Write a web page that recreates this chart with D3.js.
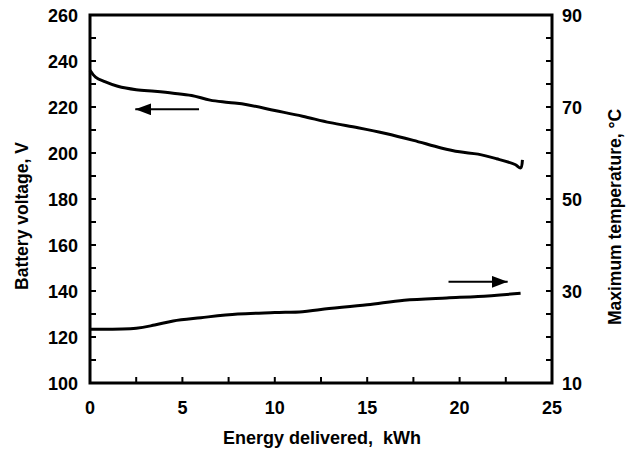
<!DOCTYPE html>
<html lang="en">
<head>
<meta charset="utf-8">
<title>Battery voltage and temperature</title>
<style>
    body { margin: 0; background: #fff; }
    text { font-family: "Liberation Sans", Arial, sans-serif; font-weight: bold; fill: #000; white-space: pre; }
    .line { fill: none; stroke: #000; stroke-width: 3; stroke-linejoin: round; }
    .frame { fill: none; stroke: #000; stroke-width: 3; }
    .tick { stroke: #000; stroke-width: 2; }
</style>
</head>
<body>
<div id="chart"></div>
<script src="https://d3js.org/d3.v7.min.js"></script>
<script>
// battery voltage (left axis)
var voltEnergy = [0, 0.3, 0.8, 1.5, 2.5, 3.5, 4.5, 5.5, 6.5, 7.5, 8.5, 10, 11.5, 13, 14.5, 16, 17.5, 19, 20, 21, 22, 23, 23.3, 23.4];
var voltage    = [236, 233, 231, 229, 227.5, 226.8, 226, 225, 223, 222, 221, 218.5, 216, 213.2, 211, 208.5, 205.5, 202.2, 200.5, 199.5, 197.5, 195, 193.5, 197];

// max temperature (right axis)
var tempEnergy = [0, 2.5, 3.5, 4.5, 6, 8, 10, 11.5, 12.5, 15, 17, 19.3, 21, 23.3];
var temperature = [21.7, 21.9, 22.6, 23.5, 24.2, 25, 25.3, 25.5, 26, 27, 28, 28.5, 28.8, 29.5];

var xTicks = [0, 5, 10, 15, 20, 25];
var voltTicks = [100, 120, 140, 160, 180, 200, 220, 240, 260];
var tempTicks = [10, 30, 50, 70, 90];

// arrows: [x from, x to, value]
var voltArrow = [5.9, 2.45, 219];
var tempArrow = [19.4, 22.6, 32];

var W = 629, H = 452;
var margin = {left: 90, right: 77, top: 15, bottom: 69};
var width = W - margin.left - margin.right,
    height = H - margin.top - margin.bottom;

var svg = d3.select("#chart").append("svg")
    .attr("width", W).attr("height", H);

var g = svg.append("g")
    .attr("transform", "translate(" + margin.left + "," + margin.top + ")");

var x = d3.scaleLinear().domain([0, 25]).range([0, width]);
var yV = d3.scaleLinear().domain([100, 260]).range([height, 0]);
var yT = d3.scaleLinear().domain([10, 90]).range([height, 0]);

var tickLen = 6;

// minor + major ticks, pointing inward
g.selectAll(".xt").data(d3.range(0, 25.01, 2.5)).enter().append("line")
    .attr("class", "tick")
    .attr("x1", function(d) { return x(d); }).attr("x2", function(d) { return x(d); })
    .attr("y1", height).attr("y2", height - tickLen);

g.selectAll(".yvt").data(d3.range(100, 260.1, 10)).enter().append("line")
    .attr("class", "tick")
    .attr("x1", 0).attr("x2", tickLen)
    .attr("y1", function(d) { return yV(d); }).attr("y2", function(d) { return yV(d); });

g.selectAll(".ytt").data(d3.range(10, 90.1, 5)).enter().append("line")
    .attr("class", "tick")
    .attr("x1", width).attr("x2", width - tickLen)
    .attr("y1", function(d) { return yT(d); }).attr("y2", function(d) { return yT(d); });

g.append("rect").attr("class", "frame")
    .attr("x", 0).attr("y", 0).attr("width", width).attr("height", height);

// tick labels
g.selectAll(".xl").data(xTicks).enter().append("text")
    .attr("x", function(d) { return x(d); })
    .attr("y", height + 31)
    .attr("text-anchor", "middle")
    .style("font-size", "18px")
    .text(function(d) { return d; });

g.selectAll(".yvl").data(voltTicks).enter().append("text")
    .attr("x", -12)
    .attr("y", function(d) { return yV(d) + 6.5; })
    .attr("text-anchor", "end")
    .style("font-size", "18px")
    .text(function(d) { return d; });

g.selectAll(".ytl").data(tempTicks).enter().append("text")
    .attr("x", width + 10)
    .attr("y", function(d) { return yT(d) + 6.5; })
    .attr("text-anchor", "start")
    .style("font-size", "18px")
    .text(function(d) { return d; });

// axis titles
g.append("text")
    .attr("x", width / 2 + 1).attr("y", height + 61)
    .attr("text-anchor", "middle")
    .style("font-size", "18px")
    .text("Energy delivered,  kWh");

g.append("text")
    .attr("transform", "translate(" + (-62) + "," + (height / 2 + 17) + ") rotate(-90)")
    .attr("text-anchor", "middle")
    .style("font-size", "17.5px")
    .text("Battery voltage, V");

g.append("text")
    .attr("transform", "translate(" + (width + 69) + "," + (height / 2 + 18) + ") rotate(-90)")
    .attr("text-anchor", "middle")
    .style("font-size", "17.5px")
    .text("Maximum temperature, °C");

// curves
g.append("path").datum(voltage)
    .attr("class", "line")
    .attr("d", d3.line()
        .x(function(d, i) { return x(voltEnergy[i]); })
        .y(function(d) { return yV(d); })
        .curve(d3.curveCatmullRom));

g.append("path").datum(temperature)
    .attr("class", "line")
    .attr("d", d3.line()
        .x(function(d, i) { return x(tempEnergy[i]); })
        .y(function(d) { return yT(d); })
        .curve(d3.curveCatmullRom));

// arrows
svg.append("defs").append("marker")
    .attr("id", "head")
    .attr("viewBox", "0 0 16 12")
    .attr("refX", 16).attr("refY", 6)
    .attr("markerWidth", 16).attr("markerHeight", 12)
    .attr("markerUnits", "userSpaceOnUse")
    .attr("orient", "auto")
    .append("path").attr("d", "M0,0 L16,6 L0,12 Z").attr("fill", "#000");

g.append("line")
    .attr("x1", x(voltArrow[0])).attr("x2", x(voltArrow[1]))
    .attr("y1", yV(voltArrow[2])).attr("y2", yV(voltArrow[2]))
    .attr("stroke", "#000").attr("stroke-width", 2)
    .attr("marker-end", "url(#head)");

g.append("line")
    .attr("x1", x(tempArrow[0])).attr("x2", x(tempArrow[1]))
    .attr("y1", yT(tempArrow[2])).attr("y2", yT(tempArrow[2]))
    .attr("stroke", "#000").attr("stroke-width", 2)
    .attr("marker-end", "url(#head)");
</script>
</body>
</html>
